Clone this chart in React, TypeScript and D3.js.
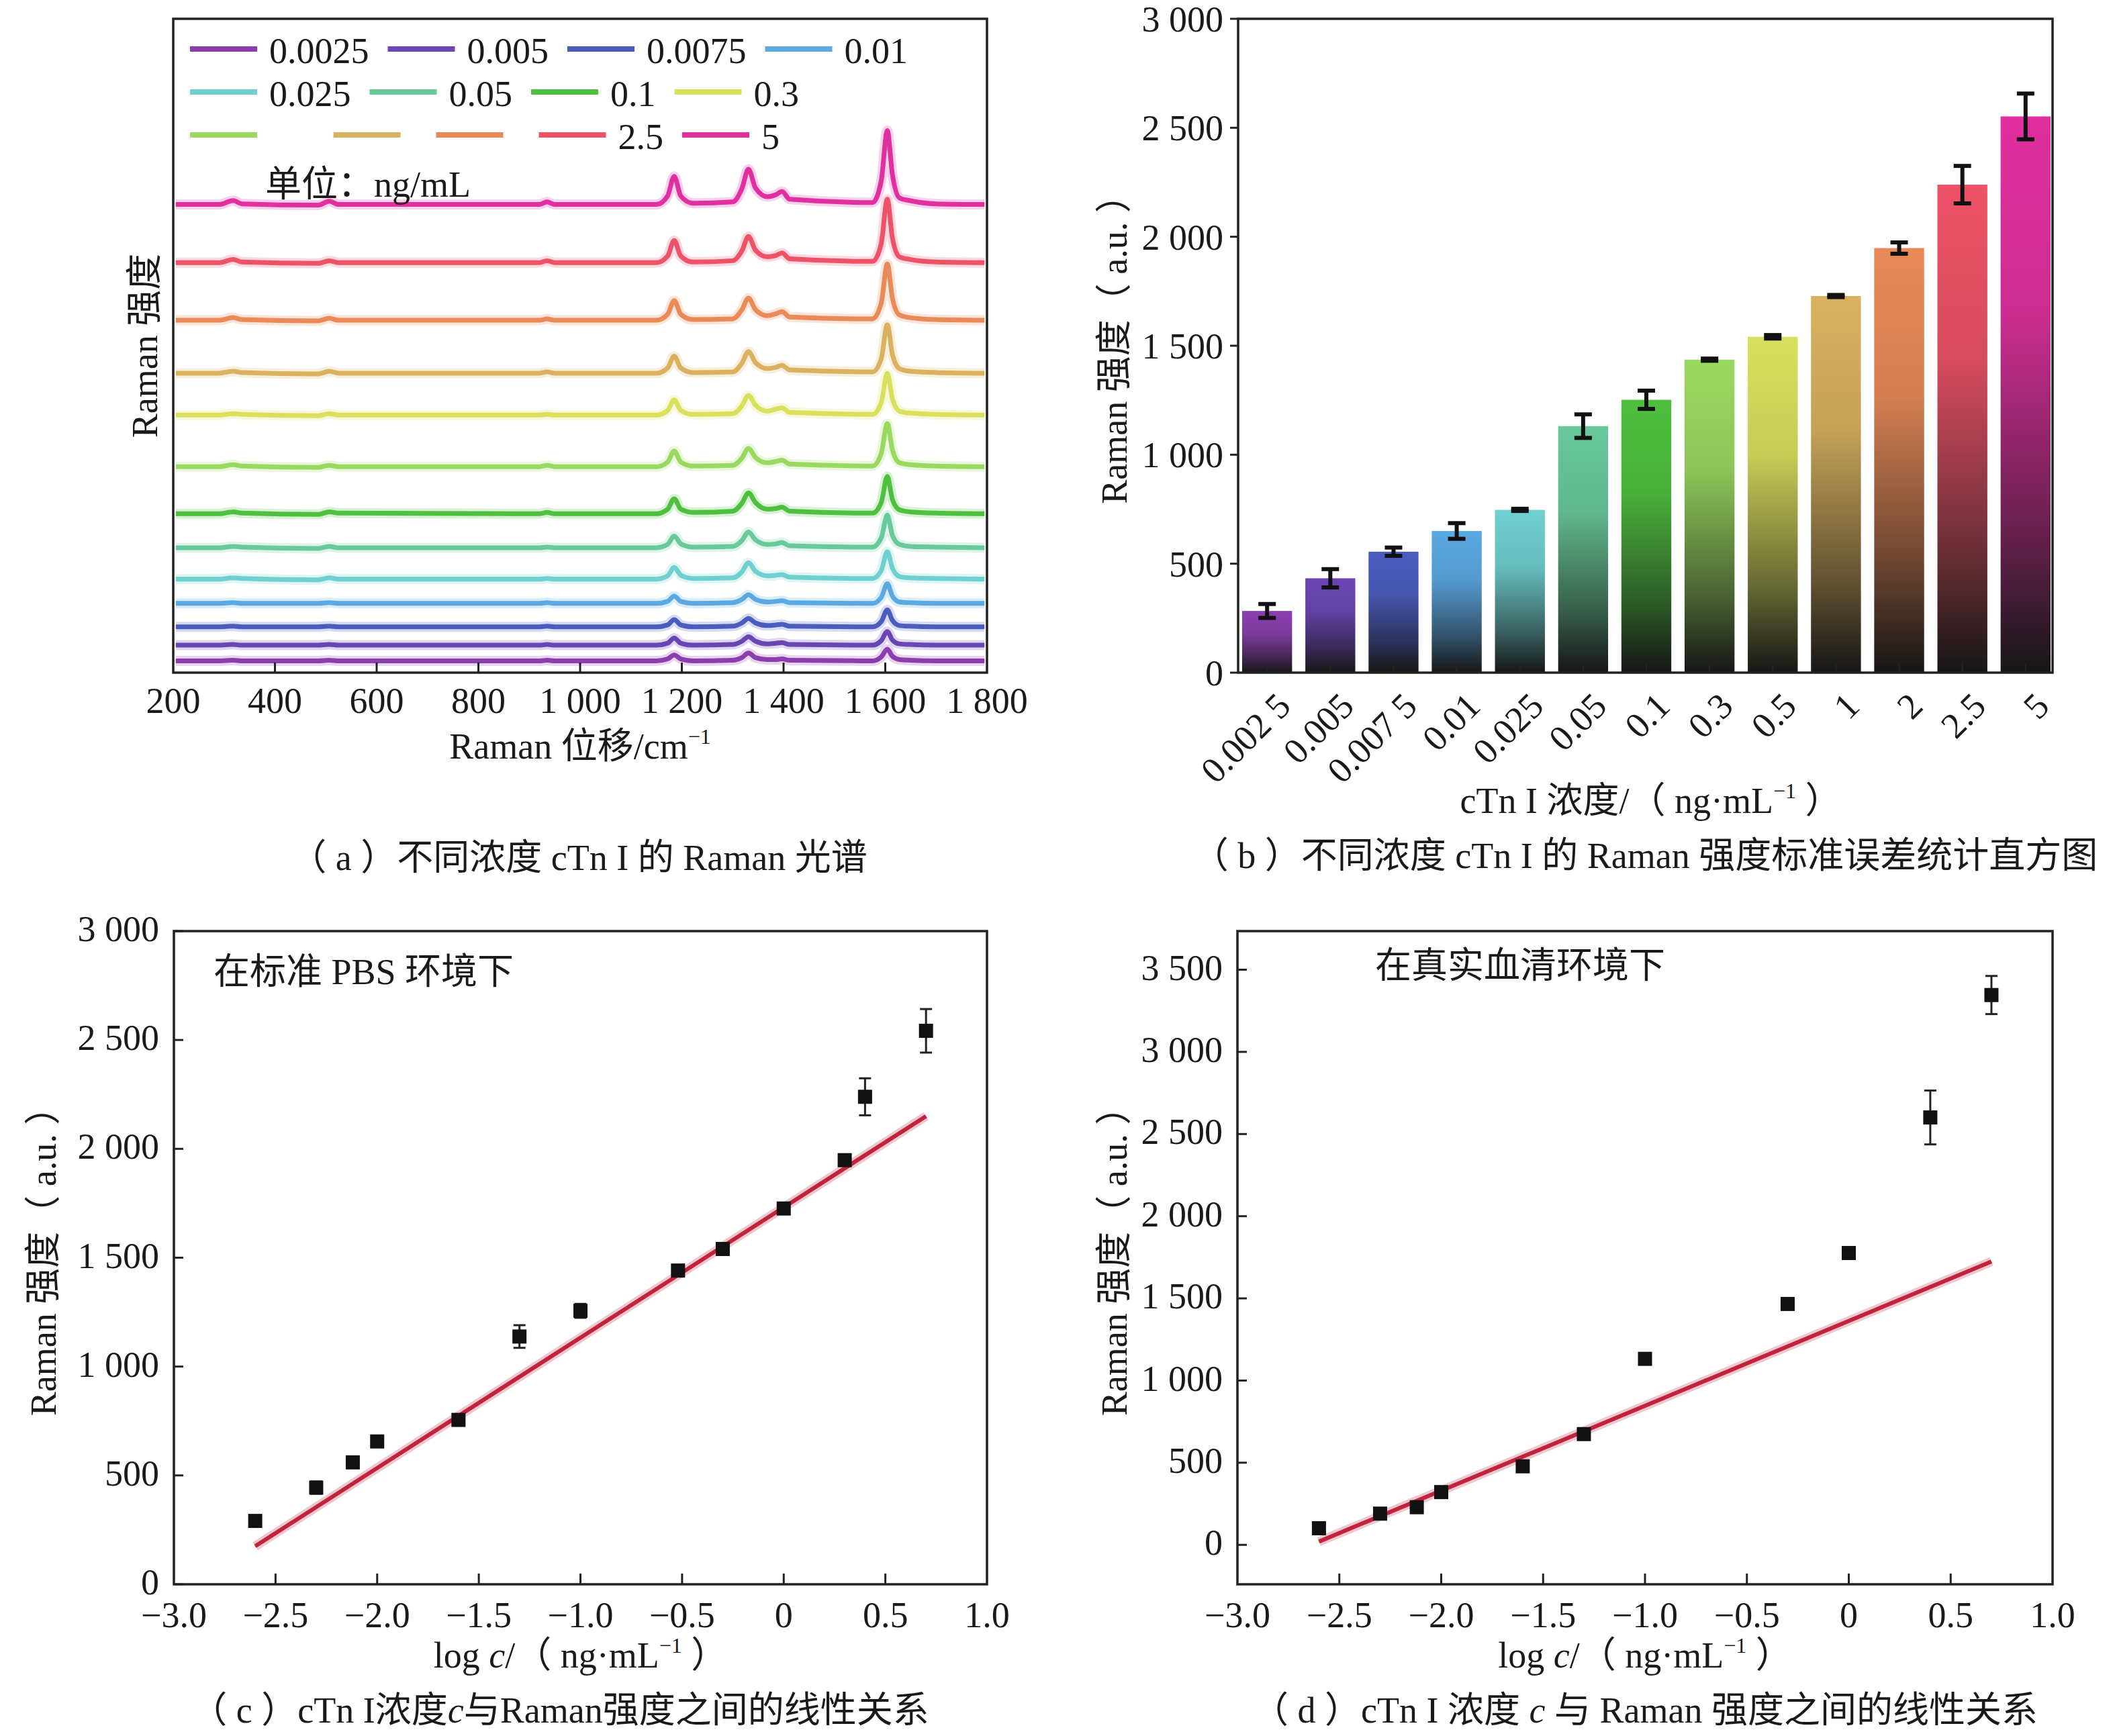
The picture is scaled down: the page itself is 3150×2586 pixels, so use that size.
import React from "react";
import * as d3 from "d3";

const W = 3150;
const H = 2586;
const FONT = "'Liberation Serif', 'Times New Roman', 'Noto Sans CJK SC', serif";
const FS = 54;

// cTn I concentrations (ng/mL) and their colours
const concLabels = ["0.002 5", "0.005", "0.007 5", "0.01", "0.025", "0.05", "0.1", "0.3", "0.5", "1", "2", "2.5", "5"];
const concColors = ["#8b3fae", "#6a46b4", "#4b5cbf", "#5aa9e2", "#6fd0cf", "#68c99a", "#4ebf3e", "#9ad95f", "#d9e05c", "#d9b15f", "#e98a58", "#ee5267", "#e12f9f"];

// (b) bar means and errors
const barMeans = [283, 433, 555, 650, 747, 1131, 1252, 1436, 1541, 1728, 1948, 2239, 2552];
const barErrors = [32, 42, 19, 36, 5, 54, 42, 5, 8, 5, 26, 86, 105];

// (a) spectra, offset units 0..1000
const wavenumbers = [205, 290, 318, 335, 485, 507, 525, 920, 935, 950, 1150, 1172, 1185, 1198, 1222, 1300, 1318, 1331, 1345, 1368, 1385, 1397, 1412, 1575, 1592, 1604, 1614, 1628, 1648, 1700, 1795];
const spectra = [
  [18, 18, 19, 18, 18, 19, 18, 18, 19, 18, 18, 21, 27, 21, 18, 19, 23, 30, 23, 20, 20, 21, 19, 18, 24, 36, 25, 20, 19, 18, 18],
  [42, 42, 43, 42, 42, 43, 42, 42, 43, 42, 42, 45, 53, 45, 42, 43, 48, 55, 48, 44, 45, 46, 43, 42, 49, 63, 50, 44, 43, 42, 42],
  [70, 70, 71, 70, 70, 71, 70, 70, 71, 70, 70, 73, 81, 73, 70, 71, 76, 83, 76, 72, 73, 74, 71, 70, 78, 96, 80, 72, 71, 70, 70],
  [106, 106, 107, 106, 106, 107, 106, 106, 107, 106, 106, 109, 117, 109, 106, 107, 112, 119, 112, 108, 109, 110, 107, 106, 115, 136, 117, 108, 107, 106, 106],
  [143, 143, 145, 144, 142, 145, 143, 143, 144, 143, 143, 148, 161, 149, 144, 145, 154, 168, 155, 148, 149, 150, 146, 144, 156, 185, 160, 147, 145, 144, 143],
  [191, 191, 193, 192, 190, 193, 191, 191, 192, 191, 191, 196, 209, 197, 192, 193, 202, 215, 203, 196, 197, 199, 194, 192, 206, 241, 210, 196, 193, 192, 191],
  [243, 243, 246, 244, 242, 246, 244, 243, 245, 243, 243, 250, 266, 250, 245, 247, 259, 275, 260, 250, 251, 253, 247, 244, 260, 300, 265, 249, 246, 244, 243],
  [315, 315, 318, 316, 314, 317, 315, 315, 317, 315, 315, 322, 339, 322, 316, 317, 328, 343, 329, 321, 323, 325, 319, 316, 335, 381, 341, 321, 318, 316, 315],
  [394, 394, 396, 395, 393, 396, 394, 394, 395, 394, 394, 401, 417, 401, 395, 396, 408, 424, 409, 400, 403, 405, 398, 395, 413, 458, 419, 400, 397, 395, 394],
  [458, 458, 461, 459, 457, 461, 458, 458, 460, 458, 458, 466, 484, 466, 459, 460, 473, 491, 474, 465, 467, 470, 463, 460, 480, 532, 487, 465, 461, 459, 458],
  [539, 539, 543, 540, 538, 542, 539, 539, 541, 539, 539, 548, 569, 548, 540, 541, 555, 573, 555, 546, 549, 552, 544, 541, 565, 625, 573, 547, 543, 540, 539],
  [627, 627, 632, 628, 626, 630, 627, 627, 630, 627, 627, 637, 661, 637, 628, 630, 645, 667, 646, 636, 638, 642, 633, 629, 656, 724, 665, 636, 632, 628, 627],
  [716, 716, 722, 717, 715, 721, 716, 716, 720, 716, 716, 729, 759, 729, 718, 720, 740, 770, 741, 728, 731, 736, 724, 719, 752, 829, 762, 726, 722, 717, 716],
];
const xTicksA = [200, 400, 600, 800, 1000, 1200, 1400, 1600, 1800];

// legend of (a), as printed (three labels are missing in the original)
const legendOrder = [0, 1, 2, 3, 4, 5, 6, 8, 7, 9, 10, 11, 12];
const legendLabels = ["0.0025", "0.005", "0.0075", "0.01", "0.025", "0.05", "0.1", "0.3", "", "", "", "2.5", "5"];
const legendRows = [4, 4, 5];

// (c) standard PBS
const logC = [-2.6, -2.3, -2.12, -2.0, -1.6, -1.3, -1.0, -0.52, -0.3, 0, 0.3, 0.4, 0.7];
const pbsMeans = [291, 444, 560, 656, 755, 1138, 1256, 1441, 1540, 1726, 1948, 2239, 2542];
const pbsErrors = [10, 28, 15, 15, 12, 52, 32, 10, 10, 12, 15, 85, 100];
const fitX = [-2.6, 0.7];
const pbsFitY = [175, 2150];

// (d) real serum
const serumLogC = [-2.6, -2.3, -2.12, -2.0, -1.6, -1.3, -1.0, -0.3, 0, 0.4, 0.7];
const serumMeans = [101, 190, 229, 321, 478, 674, 1132, 1466, 1776, 2601, 3346];
const serumErrors = [10, 18, 15, 15, 20, 15, 15, 15, 20, 164, 116];
const serumFitY = [20, 1724];

const yTicksB = [0, 500, 1000, 1500, 2000, 2500, 3000];
const yTicksC = [0, 500, 1000, 1500, 2000, 2500, 3000];
const yTicksD = [0, 500, 1000, 1500, 2000, 2500, 3000, 3500];
const xTicksLog = [-3, -2.5, -2, -1.5, -1, -0.5, 0, 0.5, 1];

const A = { l: 258, r: 1470, t: 28, b: 1002 };
const B = { l: 1844, r: 3057, t: 28, b: 1002 };
const C = { l: 259, r: 1470, t: 1387, b: 2360 };
const D = { l: 1843, r: 3057, t: 1387, b: 2360 };

const loc = d3.formatLocale({ decimal: ".", thousands: " ", grouping: [3], currency: ["", ""], minus: "\u2212" });
const fmtInt = loc.format(",");
const fmtLog = (v: number) => (v === 0 ? "0" : loc.format(".1f")(v));

const textW = (s: string) => s.split("").reduce((a, ch) => a + (ch === "." || ch === " " ? 0.25 : 0.5), 0) * FS;

function Frame({ f }: { f: { l: number; r: number; t: number; b: number } }) {
  return <rect x={f.l} y={f.t} width={f.r - f.l} height={f.b - f.t} fill="none" stroke="#222" strokeWidth={3.5} />;
}

function Sup({ children }: { children: string }) {
  return (
    <tspan dy={-22} fontSize={32}>
      {children}
    </tspan>
  );
}

function PanelA() {
  const x = d3.scaleLinear().domain([200, 1800]).range([A.l, A.r]);
  const y = d3.scaleLinear().domain([0, 1000]).range([A.b, A.t]);
  const line = d3
    .line<number>()
    .x((_, i) => x(wavenumbers[i]))
    .y((d) => y(d))
    .curve(d3.curveMonotoneX);

  // legend layout: line, label, gap (blank labels keep the room of the missing text)
  const items: { x: number; y: number; color: string; label: string }[] = [];
  let k = 0;
  legendRows.forEach((n, r) => {
    let cx = 283;
    for (let j = 0; j < n; j++, k++) {
      const ci = legendOrder[k];
      const ghost = concLabels[ci].replace(" ", "");
      items.push({ x: cx, y: 73 + r * 64, color: concColors[ci], label: legendLabels[k] });
      const trail = legendLabels[k] === "" && ghost.length === 1 ? 8 : 28;
      cx += 100 + 18 + textW(legendLabels[k] || ghost) + trail;
    }
  });

  return (
    <g>
      <defs>
        <clipPath id="clipA">
          <rect x={A.l} y={A.t} width={A.r - A.l} height={A.b - A.t} />
        </clipPath>
      </defs>
      <g clipPath="url(#clipA)">
        {spectra.map((s, i) => (
          <g key={i}>
            <path d={line(s) ?? ""} fill="none" stroke={concColors[i]} strokeOpacity={0.22} strokeWidth={15} strokeLinejoin="round" />
            <path d={line(s) ?? ""} fill="none" stroke={concColors[i]} strokeWidth={7} strokeLinejoin="round" />
          </g>
        ))}
      </g>
      {xTicksA.slice(1, -1).map((t) => (
        <line key={t} x1={x(t)} x2={x(t)} y1={A.b} y2={A.b - 15} stroke="#222" strokeWidth={3} />
      ))}
      <Frame f={A} />
      {xTicksA.map((t) => (
        <text key={t} x={x(t)} y={A.b + 60} textAnchor="middle">
          {fmtInt(t)}
        </text>
      ))}
      {items.map((it, i) => (
        <g key={i}>
          <line x1={it.x} x2={it.x + 100} y1={it.y} y2={it.y} stroke={it.color} strokeWidth={8} />
          {it.label && (
            <text x={it.x + 118} y={it.y + 21}>
              {it.label}
            </text>
          )}
        </g>
      ))}
      <text x={395} y={293}>单位：ng/mL</text>
      <text x={(A.l + A.r) / 2} y={1130} textAnchor="middle">
        Raman 位移/cm<Sup>−1</Sup>
      </text>
      <text transform={`translate(216,${(A.t + A.b) / 2}) rotate(-90)`} textAnchor="middle" dominantBaseline="central">
        Raman 强度
      </text>
      <text x={862} y={1296} textAnchor="middle">
        （ a ）不同浓度 cTn I 的 Raman 光谱
      </text>
    </g>
  );
}

function PanelB() {
  const x = d3.scaleBand<string>().domain(concLabels).range([B.l + 6, B.r - 3]).paddingInner(0.21).paddingOuter(0);
  const y = d3.scaleLinear().domain([0, 3000]).range([B.b, B.t]);
  const dark = "#161616";
  return (
    <g>
      <defs>
        {concColors.map((c, i) => (
          <linearGradient key={i} id={`barGrad${i}`} x1="0" y1="0" x2="0" y2="1">
            <stop offset="0" stopColor={c} />
            <stop offset="0.35" stopColor={d3.interpolateRgb(c, dark)(0.1)} />
            <stop offset="0.75" stopColor={d3.interpolateRgb(c, dark)(0.6)} />
            <stop offset="1" stopColor={dark} />
          </linearGradient>
        ))}
      </defs>
      {barMeans.map((v, i) => {
        const bx = x(concLabels[i]) ?? 0;
        return (
          <rect key={i} x={bx} y={y(v)} width={x.bandwidth()} height={B.b - y(v)} fill={`url(#barGrad${i})`} />
        );
      })}
      {barMeans.map((v, i) => {
        const cx = (x(concLabels[i]) ?? 0) + x.bandwidth() / 2;
        const e = barErrors[i];
        return (
          <g key={i} stroke="#111" strokeWidth={6}>
            <line x1={cx} x2={cx} y1={y(v + e)} y2={y(v - e)} />
            <line x1={cx - 13} x2={cx + 13} y1={y(v + e)} y2={y(v + e)} />
            <line x1={cx - 13} x2={cx + 13} y1={y(v - e)} y2={y(v - e)} />
          </g>
        );
      })}
      {concLabels.map((c) => {
        const cx = (x(c) ?? 0) + x.bandwidth() / 2;
        return <line key={c} x1={cx} x2={cx} y1={B.b} y2={B.b - 13} stroke="#222" strokeWidth={2.5} />;
      })}
      <Frame f={B} />
      {yTicksB.map((t) => (
        <g key={t}>
          <line x1={B.l - 12} x2={B.l} y1={y(t)} y2={y(t)} stroke="#222" strokeWidth={3} />
          <text x={B.l - 22} y={y(t)} dy="0.35em" textAnchor="end">
            {fmtInt(t)}
          </text>
        </g>
      ))}
      {concLabels.map((c) => {
        const cx = (x(c) ?? 0) + x.bandwidth() / 2;
        return (
          <text key={c} transform={`translate(${cx + 38},${B.b + 53}) rotate(-45)`} textAnchor="end">
            {c}
          </text>
        );
      })}
      <text transform={`translate(1660,${(B.t + B.b) / 2 - 8}) rotate(-90)`} textAnchor="middle" dominantBaseline="central">
        Raman 强度（ a.u. ）
      </text>
      <text x={(B.l + B.r) / 2 + 8} y={1211} textAnchor="middle">
        cTn I 浓度/（ ng·mL<Sup>−1</Sup>
        <tspan dy={22}> ）</tspan>
      </text>
      <text x={2450} y={1293} textAnchor="middle">
        （ b ）不同浓度 cTn I 的 Raman 强度标准误差统计直方图
      </text>
    </g>
  );
}

function Scatter({
  f,
  yDomain,
  yTicks,
  xs,
  ys,
  errs,
  fitY,
  note,
  noteX,
  noteY,
  titleX,
  caption,
  captionX,
}: {
  f: { l: number; r: number; t: number; b: number };
  yDomain: [number, number];
  yTicks: number[];
  xs: number[];
  ys: number[];
  errs: number[];
  fitY: number[];
  note: string;
  noteX: number;
  noteY: number;
  titleX: number;
  caption: React.ReactNode;
  captionX: number;
}) {
  const x = d3.scaleLinear().domain([-3, 1]).range([f.l, f.r]);
  const y = d3.scaleLinear().domain(yDomain).range([f.b, f.t]);
  const fit = d3
    .line<number>()
    .x((_, i) => x(fitX[i]))
    .y((d) => y(d));
  const m = 21;
  return (
    <g>
      <path d={fit(fitY) ?? ""} stroke="#c0233b" strokeOpacity={0.25} strokeWidth={14} fill="none" />
      <path d={fit(fitY) ?? ""} stroke="#c0233b" strokeWidth={6} fill="none" />
      {xs.map((v, i) => (
        <g key={i} stroke="#222" strokeWidth={3}>
          <line x1={x(v)} x2={x(v)} y1={y(ys[i] + errs[i])} y2={y(ys[i] - errs[i])} />
          <line x1={x(v) - 9} x2={x(v) + 9} y1={y(ys[i] + errs[i])} y2={y(ys[i] + errs[i])} />
          <line x1={x(v) - 9} x2={x(v) + 9} y1={y(ys[i] - errs[i])} y2={y(ys[i] - errs[i])} />
        </g>
      ))}
      {xs.map((v, i) => (
        <rect key={i} x={x(v) - m / 2} y={y(ys[i]) - m / 2} width={m} height={m} fill="#111" />
      ))}
      {xTicksLog.slice(1, -1).map((t) => (
        <line key={t} x1={x(t)} x2={x(t)} y1={f.b} y2={f.b - 16} stroke="#222" strokeWidth={3} />
      ))}
      {yTicks.map((t) => (
        <line key={t} x1={f.l} x2={f.l + 14} y1={y(t)} y2={y(t)} stroke="#222" strokeWidth={3} />
      ))}
      <Frame f={f} />
      {xTicksLog.map((t) => (
        <text key={t} x={x(t)} y={f.b + 64} textAnchor="middle">
          {fmtLog(t)}
        </text>
      ))}
      {yTicks.map((t) => (
        <text key={t} x={f.l - 22} y={y(t)} dy="0.28em" textAnchor="end">
          {fmtInt(t)}
        </text>
      ))}
      <text x={noteX} y={noteY}>
        {note}
      </text>
      <text transform={`translate(${titleX},${(f.t + f.b) / 2 - 8}) rotate(-90)`} textAnchor="middle" dominantBaseline="central">
        Raman 强度（ a.u. ）
      </text>
      <text x={(f.l + f.r) / 2} y={2484} textAnchor="middle">
        log <tspan fontStyle="italic">c</tspan>/（ ng·mL<Sup>−1</Sup>
        <tspan dy={22}> ）</tspan>
      </text>
      <text x={captionX} y={2566} textAnchor="middle">
        {caption}
      </text>
    </g>
  );
}

export default function App() {
  return (
    <svg
      width={W}
      height={H}
      viewBox={`0 0 ${W} ${H}`}
      style={{ position: "absolute", left: 0, top: 0, background: "#fff" }}
      fontFamily={FONT}
      fontSize={FS}
      fill="#1a1a1a"
    >
      <rect width={W} height={H} fill="#fff" />
      <PanelA />
      <PanelB />
      <Scatter
        f={C}
        yDomain={[0, 3000]}
        yTicks={yTicksC}
        xs={logC}
        ys={pbsMeans}
        errs={pbsErrors}
        fitY={pbsFitY}
        note="在标准 PBS 环境下"
        noteX={318}
        noteY={1466}
        titleX={65}
        captionX={834}
        caption={
          <>
            （ c ）cTn I浓度<tspan fontStyle="italic">c</tspan>与Raman强度之间的线性关系
          </>
        }
      />
      <Scatter
        f={D}
        yDomain={[-240, 3735]}
        yTicks={yTicksD}
        xs={serumLogC}
        ys={serumMeans}
        errs={serumErrors}
        fitY={serumFitY}
        note="在真实血清环境下"
        noteX={2048}
        noteY={1457}
        titleX={1660}
        captionX={2450}
        caption={
          <>
            （ d ）cTn I 浓度 <tspan fontStyle="italic">c</tspan> 与 Raman 强度之间的线性关系
          </>
        }
      />
    </svg>
  );
}
